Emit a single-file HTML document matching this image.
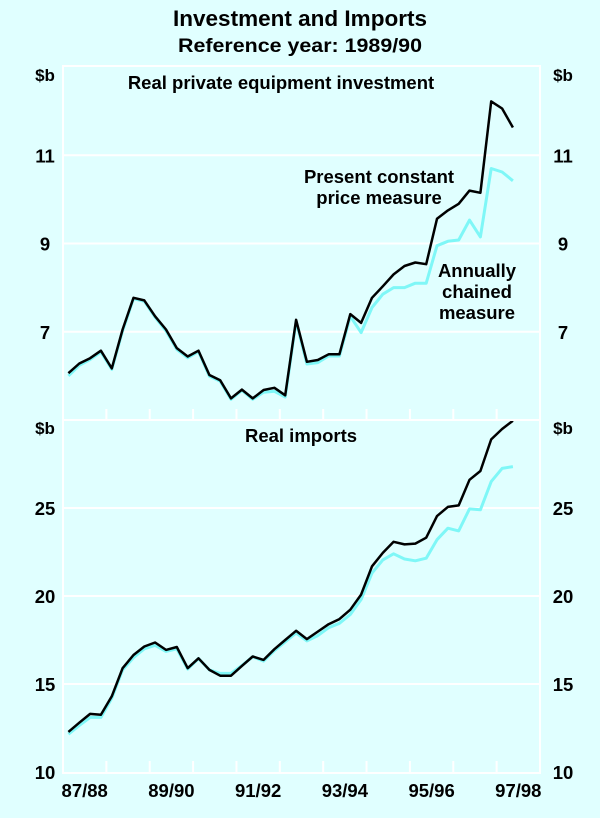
<!DOCTYPE html>
<html><head><meta charset="utf-8"><style>
html,body{margin:0;padding:0;background:#e0ffff;}
svg{display:block;font-family:"Liberation Sans",Arial,sans-serif;font-weight:bold;}
</style></head><body>
<svg id="c" width="600" height="818" viewBox="0 0 600 818" xmlns="http://www.w3.org/2000/svg">
<rect width="600" height="818" fill="#e0ffff"/>
<text x="300" y="26" font-size="22" text-anchor="middle" textLength="254" lengthAdjust="spacingAndGlyphs" fill="#000">Investment and Imports</text>
<text x="300" y="52" font-size="19" text-anchor="middle" textLength="244" lengthAdjust="spacingAndGlyphs" fill="#000">Reference year: 1989/90</text>
<g id="g"></g>
</svg>
<script>
const yearLabels=["87/88","89/90","91/92","93/94","95/96","97/98"];
const invTicks=[7,9,11];
const impTicks=[10,15,20,25];
const invCurrent=[6.06,6.28,6.4,6.57,6.17,7.05,7.77,7.71,7.35,7.05,6.63,6.44,6.57,6.02,5.9,5.49,5.69,5.49,5.68,5.73,5.56,7.27,6.32,6.36,6.49,6.49,7.4,7.2,7.77,8.03,8.3,8.49,8.57,8.53,9.56,9.75,9.9,10.2,10.15,12.22,12.06,11.63];
const invChained=[6.0,6.24,6.37,6.54,6.15,7.02,7.75,7.69,7.33,7.02,6.6,6.41,6.55,5.99,5.88,5.47,5.67,5.47,5.63,5.65,5.52,7.24,6.27,6.3,6.45,6.45,7.35,6.98,7.55,7.85,8.0,8.0,8.1,8.1,8.95,9.05,9.08,9.53,9.15,10.7,10.62,10.42];
const impCurrent=[12.28,12.8,13.3,13.25,14.3,15.9,16.65,17.13,17.36,16.94,17.1,15.9,16.46,15.8,15.47,15.47,16.03,16.56,16.37,16.98,17.5,18.02,17.55,17.98,18.4,18.69,19.22,20.08,21.69,22.45,23.08,22.93,22.98,23.31,24.54,25.06,25.15,26.6,27.1,28.9,29.49,29.96];
const impChained=[12.15,12.65,13.1,13.1,14.2,15.8,16.5,17.0,17.2,16.85,17.0,15.85,16.45,15.8,15.6,15.6,16.05,16.55,16.3,16.9,17.4,17.9,17.45,17.75,18.2,18.45,18.95,19.8,21.3,22.05,22.4,22.1,22.0,22.15,23.2,23.85,23.7,24.95,24.9,26.5,27.25,27.35];

const NS="http://www.w3.org/2000/svg";
const g=document.getElementById('g');
const L=63,R=540,nQ=44;
const qw=(R-L)/nQ;
const xq=i=>L+(i+0.5)*qw;
function mk(t,a,txt){const e=document.createElementNS(NS,t);for(const k in a)e.setAttribute(k,a[k]);if(txt!==undefined)e.textContent=txt;g.appendChild(e);return e;}
function panel(top,bot,vmin,vmax,ticks,s1,s2,name,title,tx){
  const y=v=>bot-(v-vmin)/(vmax-vmin)*(bot-top);
  for(const t of ticks){
    if(t>vmin){const l=mk('line',{x1:L,x2:R,y1:y(t),y2:y(t),stroke:'#fff','stroke-width':2});
    
    }
    const a=mk('text',{x:45,y:y(t)+7,'font-size':18.5,'text-anchor':'middle'},String(t));
    
    
    const b=mk('text',{x:563,y:y(t)+7,'font-size':18.5,'text-anchor':'middle'},String(t));
    
    
  }
  const u1=mk('text',{x:45,y:top+14,'font-size':17,'text-anchor':'middle'},'$b');
  
  
  const u2=mk('text',{x:563,y:top+14,'font-size':17,'text-anchor':'middle'},'$b');
  
  
  const tt=mk('text',{x:tx,y:top+22,'font-size':18.5,'text-anchor':'middle'},title);
  
  
  for(let k=1;k<11;k++){const x=L+k*4*qw;const tk=mk('line',{x1:x,x2:x,y1:bot,y2:bot-11,stroke:'#fff','stroke-width':2});
    
    }
  const pts=s=>s.map((v,i)=>xq(i).toFixed(1)+','+y(v).toFixed(1)).join(' ');
  const p2=mk('polyline',{points:pts(s2),fill:'none',stroke:'#7ff7f7','stroke-width':3,'stroke-linejoin':'round'});
  
  
  const p1=mk('polyline',{points:pts(s1),fill:'none',stroke:'#000','stroke-width':2.5,'stroke-linejoin':'round'});
  
  
  return y;
}
panel(67,420,5,13,invTicks,invCurrent,invChained,'investment','Real private equipment investment',281);
panel(420,772,10,30,impTicks,impCurrent,impChained,'imports','Real imports',301);
const fr=mk('path',{d:`M${L},65 V773 H${R} V65`,fill:'none',stroke:'#fff','stroke-width':2});


const tl=mk('line',{x1:L,x2:R,y1:66,y2:66,stroke:'#fff','stroke-width':2});


const sep=mk('line',{x1:L,x2:R,y1:420,y2:420,stroke:'#fff','stroke-width':2});


yearLabels.forEach((lab,k)=>{
  const t=mk('text',{x:L+(k*8+2)*qw,y:797,'font-size':18.5,'text-anchor':'middle'},lab);
  
  
});
const a1=mk('text',{x:379,y:183,'font-size':18.5,'text-anchor':'middle'},'Present constant');


const a2=mk('text',{x:379,y:204,'font-size':18.5,'text-anchor':'middle'},'price measure');


[['Annually',277],['chained',298],['measure',319]].forEach(([s,yy],i)=>{
  const t=mk('text',{x:477,y:yy,'font-size':18.5,'text-anchor':'middle'},s);
  
  
});
</script>
</body></html>
